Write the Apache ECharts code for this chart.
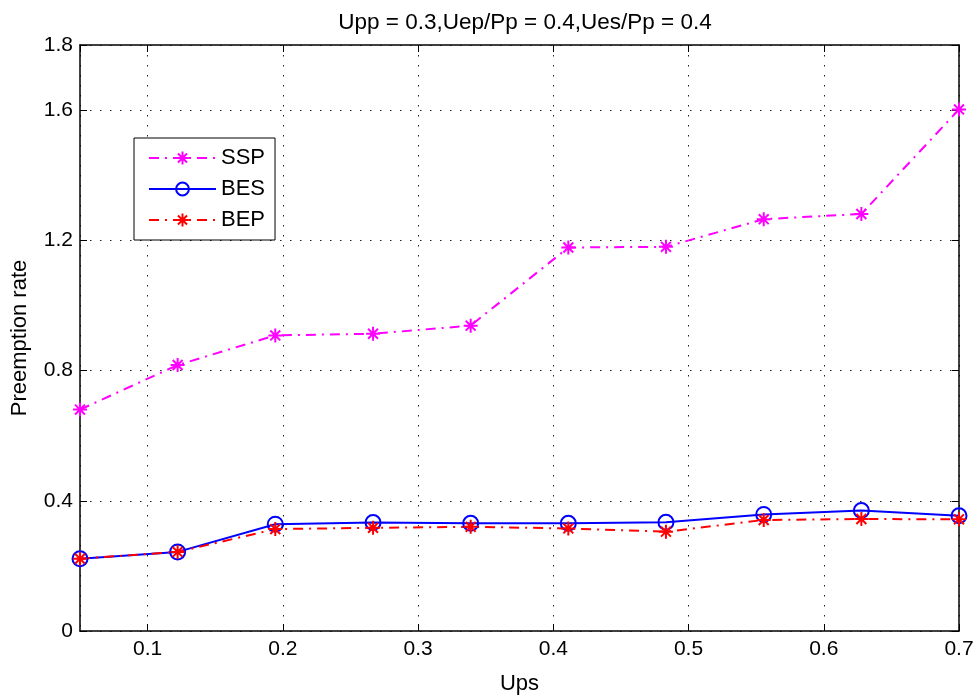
<!DOCTYPE html>
<html>
<head>
<meta charset="utf-8">
<script src="https://cdn.jsdelivr.net/npm/echarts@6/dist/echarts.min.js"></script>
<style>html,body{margin:0;padding:0;background:#fff}#c{width:976px;height:695px}</style>
</head>
<body>
<div id="c"></div>
<script>
const titleText = 'Upp = 0.3,Uep/Pp = 0.4,Ues/Pp = 0.4';
const xName = 'Ups';
const yName = 'Preemption rate';
const xValues = [0.05, 0.1222, 0.1944, 0.2667, 0.3389, 0.4111, 0.4833, 0.5556, 0.6278, 0.7];
const ssp = [0.680, 0.817, 0.908, 0.913, 0.938, 1.178, 1.180, 1.265, 1.281, 1.602];
const bes = [0.222, 0.243, 0.328, 0.333, 0.331, 0.331, 0.334, 0.358, 0.370, 0.354];
const bep = [0.222, 0.243, 0.313, 0.317, 0.320, 0.315, 0.305, 0.341, 0.344, 0.343];
const seriesNames = ['SSP', 'BES', 'BEP'];

const FONT = 'Liberation Sans, Arial, Helvetica, sans-serif';
const asterisk = 'path://M5,0L5,10M0,5L10,5M1.46,1.46L8.54,8.54M1.46,8.54L8.54,1.46';
const dashDot = [10, 6, 2, 6];
const pairs = arr => arr.map((v, i) => [xValues[i], v]);

const chart = echarts.init(document.getElementById('c'), null, {renderer: 'canvas'});
const gridLine = {show: true, lineStyle: {color: '#222', type: [1.5, 8.5], width: 1}};
const axisLineStyle = {show: true, onZero: false, lineStyle: {color: '#000', width: 1.5}};
const tickStyle = {show: true, inside: true, length: 7, lineStyle: {color: '#000', width: 1}};
chart.setOption({
  animation: false,
  backgroundColor: '#fff',
  textStyle: {fontFamily: FONT},
  title: {
    text: titleText, left: 520, top: 6, textAlign: 'center',
    textStyle: {fontSize: 22.5, fontWeight: 'normal', color: '#000', fontFamily: FONT}
  },
  grid: {left: 80, right: 17, top: 45, bottom: 64, containLabel: false, outerBoundsMode: 'none'},
  legend: {
    orient: 'vertical', left: 134, top: 138,
    data: seriesNames,
    backgroundColor: '#fff', borderColor: '#000', borderWidth: 1,
    padding: [9, 10, 9, 14],
    itemWidth: 67, itemHeight: 16, itemGap: 9, itemTextGap: 8,
    textStyle: {fontSize: 22, color: '#000', fontFamily: FONT, lineHeight: 22}
  },
  xAxis: [{
    type: 'value', min: 0.05, max: 0.7, splitNumber: 5,
    name: xName, nameLocation: 'middle', nameGap: 42,
    nameTextStyle: {fontSize: 22, color: '#000', fontFamily: FONT},
    axisLine: axisLineStyle,
    axisTick: tickStyle,
    axisLabel: {showMinLabel: false, fontSize: 21, color: '#000', margin: 8, fontFamily: FONT},
    splitLine: gridLine
  }, {
    type: 'value', position: 'top', min: 0.05, max: 0.7, splitNumber: 5,
    axisLine: axisLineStyle,
    axisTick: tickStyle,
    axisLabel: {show: false}, splitLine: {show: false}
  }],
  yAxis: [{
    type: 'value', min: 0, max: 1.8, interval: 0.4,
    name: yName, nameLocation: 'middle', nameGap: 49, nameRotate: 90,
    nameTextStyle: {fontSize: 22, color: '#000', fontFamily: FONT},
    axisLine: axisLineStyle,
    axisTick: tickStyle,
    axisLabel: {fontSize: 21, color: '#000', margin: 7, fontFamily: FONT},
    splitLine: gridLine
  }, {
    type: 'value', position: 'right', min: 0, max: 1.8, interval: 0.4,
    axisLine: axisLineStyle,
    axisTick: tickStyle,
    axisLabel: {show: false}, splitLine: {show: false}
  }],
  series: [{
    name: 'SSP', type: 'line', data: pairs(ssp),
    symbol: asterisk, symbolSize: 14,
    lineStyle: {color: '#ff00ff', width: 2, type: dashDot},
    itemStyle: {color: '#ff00ff', borderColor: '#ff00ff', borderWidth: 2}
  }, {
    name: 'BES', type: 'line', data: pairs(bes),
    symbol: 'circle', symbolSize: 15,
    lineStyle: {color: '#0000ff', width: 2, type: 'solid'},
    itemStyle: {color: 'rgba(255,255,255,0)', borderColor: '#0000ff', borderWidth: 2}
  }, {
    name: 'BEP', type: 'line', data: pairs(bep),
    symbol: asterisk, symbolSize: 14,
    lineStyle: {color: '#ff0000', width: 2, type: dashDot},
    itemStyle: {color: '#ff0000', borderColor: '#ff0000', borderWidth: 2}
  }]
});
</script>
</body>
</html>
